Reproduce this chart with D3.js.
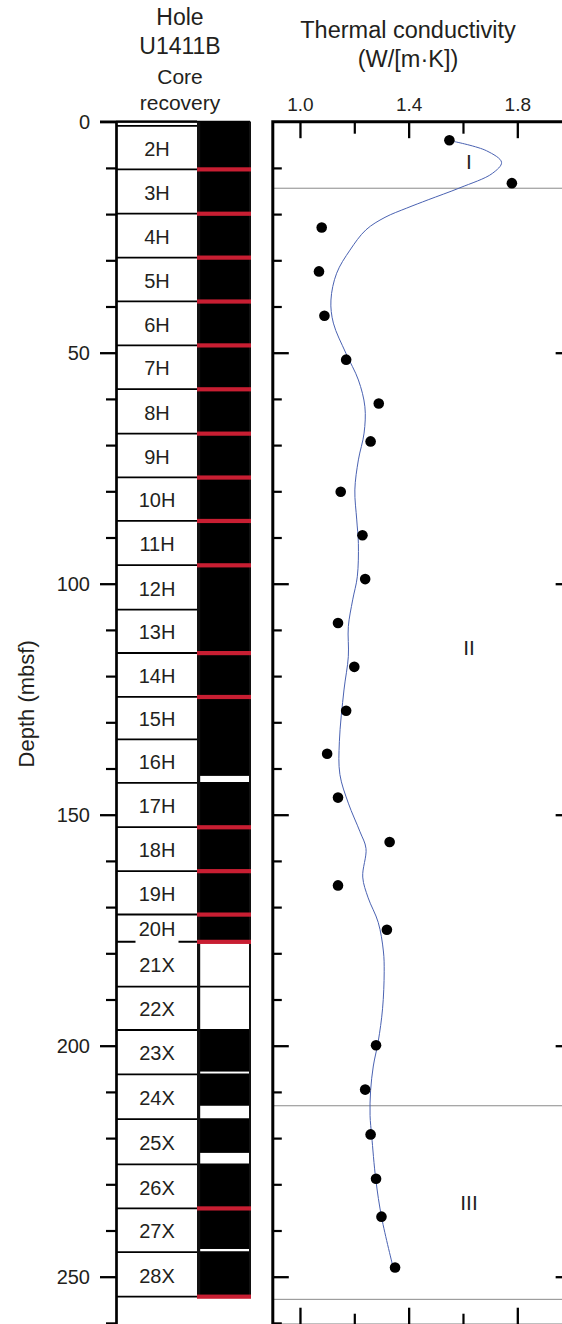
<!DOCTYPE html>
<html>
<head>
<meta charset="utf-8">
<script src="https://cdn.jsdelivr.net/npm/d3@7"></script>
<style>
  html, body { margin: 0; padding: 0; background: #fff; }
  svg { display: block; }
  text { font-family: "Liberation Sans", Arial, Helvetica, sans-serif; fill: #231f20; }
</style>
</head>
<body>
<svg id="chart" width="562" height="1324"></svg>
<script>
// Hole U1411B cores (depth in mbsf)
const coreNames = ["1H","2H","3H","4H","5H","6H","7H","8H","9H","10H",
  "11H","12H","13H","14H","15H","16H","17H","18H","19H","20H",
  "21X","22X","23X","24X","25X","26X","27X","28X"];
const coreTops = [0, 0.9, 10.3, 19.9, 29.4, 38.9, 48.4, 57.9, 67.5, 77.0,
  86.4, 96.0, 105.6, 115.0, 124.5, 133.7, 143.1, 152.7, 162.2, 171.6,
  177.5, 187.2, 196.6, 206.2, 215.9, 225.7, 235.2, 244.7];
const coreBottoms = [0.9, 10.3, 19.9, 29.4, 38.9, 48.4, 57.9, 67.5, 77.0, 86.4,
  96.0, 105.6, 115.0, 124.5, 133.7, 143.1, 152.7, 162.2, 171.6, 177.5,
  187.2, 196.6, 206.2, 215.9, 225.7, 235.2, 244.7, 254.3];
// recovered length of each core (m), measured from core top
const coreRecovered = [0.9, 9.4, 9.6, 9.5, 9.5, 9.5, 9.5, 9.6, 9.5, 9.4,
  9.6, 9.6, 9.4, 9.5, 9.2, 7.9, 9.6, 9.5, 9.4, 5.9,
  0, 0, 9.0, 6.8, 7.3, 9.5, 8.8, 9.6];
// red markers in the recovery column
const redMarkDepths = [10.3, 19.9, 29.4, 38.9, 48.4, 57.9, 67.5, 77.0, 86.4, 96.0,
  115.0, 124.5, 152.7, 162.2, 171.6, 177.5, 235.2, 254.3];

// thermal conductivity measurements
const tcDepth = [4.0, 13.3, 22.9, 32.4, 42.0, 51.5, 61.0, 69.2, 80.1, 89.5,
  99.0, 108.5, 118.0, 127.5, 136.8, 146.3, 155.9, 165.3, 174.9, 199.9,
  209.5, 219.2, 228.8, 237.0, 248.0];
const tcValue = [1.55, 1.78, 1.08, 1.07, 1.09, 1.17, 1.29, 1.26, 1.15, 1.23,
  1.24, 1.14, 1.20, 1.17, 1.10, 1.14, 1.33, 1.14, 1.32, 1.28,
  1.24, 1.26, 1.28, 1.30, 1.35];

// smoothed trend through the measurements
const trendDepth = [4.3, 6.3, 8.8, 11.2, 14.3, 16.9, 18.7, 20.7, 23.4, 27.8,
  32.8, 38.6, 43.6, 50.1, 55.9, 61.7, 67.4, 73.2, 79.7, 86.2,
  91.3, 98.5, 103.5, 109.3, 115.8, 123.0, 134.2, 141.3, 147.5, 153.7,
  157.3, 163.5, 168.0, 173.3, 179.5, 184.0, 192.0, 199.1, 204.4, 209.7,
  215.1, 219.5, 228.9, 237.3, 248.0];
const trendValue = [1.568, 1.687, 1.742, 1.708, 1.589, 1.472, 1.393, 1.313, 1.243, 1.184,
  1.135, 1.114, 1.123, 1.169, 1.215, 1.239, 1.236, 1.215, 1.202, 1.209,
  1.215, 1.211, 1.194, 1.178, 1.178, 1.162, 1.145, 1.147, 1.178, 1.221,
  1.243, 1.231, 1.251, 1.288, 1.307, 1.310, 1.304, 1.288, 1.270, 1.260,
  1.258, 1.264, 1.279, 1.301, 1.343];

// lithostratigraphic units
const unitNames = ["I", "II", "III"];
const unitLabelDepths = [8.6, 113.9, 234.0];
const unitBoundaryDepths = [14.4, 213.0, 254.9];

// axis ticks
const depthMajorTicks = [0, 50, 100, 150, 200, 250];
const depthMinorTicks = d3.range(10, 261, 10).filter(d => d % 50 !== 0);
const tcMajorTicks = [1.0, 1.4, 1.8];
const tcMinorTicks = [1.2, 1.6];

const svg = d3.select("#chart");
const ink = "#231f20";

const y = d3.scaleLinear().domain([0, 260.5]).range([121.7, 121.7 + 260.5 * 4.62]);
const x = d3.scaleLinear().domain([0.9, 2.0]).range([272.8, 571.65]);

// ---------- left panel: core recovery ----------
const axisX = 116, boxRight = 197, colLeft = 197, colRight = 251, labelX = 157;
const cores = coreNames.map((n, i) => ({ name: n, top: coreTops[i], bottom: coreBottoms[i], rec: coreRecovered[i] }));

const left = svg.append("g");
left.selectAll("rect.box").data(cores).join("rect")
  .attr("x", axisX).attr("width", boxRight - axisX)
  .attr("y", d => y(d.top)).attr("height", d => y(d.bottom) - y(d.top))
  .attr("fill", "#fff");

left.selectAll("rect.rec").data(cores.filter(d => d.rec > 0)).join("rect")
  .attr("x", colLeft).attr("width", colRight - colLeft)
  .attr("y", d => y(d.top)).attr("height", d => y(d.top + d.rec) - y(d.top))
  .attr("fill", "#000");

// core boundaries
const bounds = [coreTops[0]].concat(coreBottoms);
left.selectAll("line.bound").data(bounds).join("line")
  .attr("x1", axisX).attr("x2", colRight - 1)
  .attr("y1", d => y(d)).attr("y2", d => y(d))
  .attr("stroke", "#000").attr("stroke-width", 1.8);

// recovery column borders
left.append("line").attr("x1", 198.6).attr("x2", 198.6)
  .attr("y1", y(0)).attr("y2", y(coreBottoms[coreBottoms.length - 1]))
  .attr("stroke", "#111").attr("stroke-width", 3.2);
left.append("line").attr("x1", 250).attr("x2", 250)
  .attr("y1", y(0)).attr("y2", y(coreBottoms[coreBottoms.length - 1]))
  .attr("stroke", "#111").attr("stroke-width", 2);

left.selectAll("rect.red").data(redMarkDepths).join("rect")
  .attr("x", colLeft).attr("width", colRight - colLeft)
  .attr("y", d => y(d) - 2).attr("height", 4.2)
  .attr("fill", "#c81e32");

// core labels with a white knock-out behind them
const labelled = cores.filter(d => y(d.bottom) - y(d.top) > 15);
const lab = left.selectAll("g.lab").data(labelled).join("g")
  .attr("transform", d => `translate(${labelX},${(y(d.top) + y(d.bottom)) / 2 + 1})`);
lab.append("rect").attr("x", -21.5).attr("width", 43).attr("y", -10).attr("height", 25.5).attr("fill", "#fff");
lab.append("text").attr("text-anchor", "middle").attr("dy", "0.36em")
  .style("font-size", "20px").text(d => d.name);

// depth axis
const depthAxis = d3.axisLeft(y).tickValues(depthMajorTicks).tickSize(16).tickSizeOuter(0)
  .tickPadding(10).tickFormat(d3.format("d"));
const gDepth = svg.append("g").attr("transform", `translate(${axisX},0)`).call(depthAxis);
gDepth.select(".domain").attr("stroke", "#000").attr("stroke-width", 2.7);
gDepth.selectAll(".tick line").attr("stroke", "#000").attr("stroke-width", 2.3);
gDepth.selectAll(".tick text").attr("fill", ink).style("font-size", "20px")
  .style("font-family", "'Liberation Sans', Arial, sans-serif");
const gDepthMinor = svg.append("g").attr("transform", `translate(${axisX},0)`)
  .call(d3.axisLeft(y).tickValues(depthMinorTicks).tickSize(10).tickFormat(""));
gDepthMinor.select(".domain").remove();
gDepthMinor.selectAll(".tick line").attr("stroke", "#000").attr("stroke-width", 2.2);
// top edge of the core column
svg.append("line").attr("x1", 100).attr("x2", boxRight).attr("y1", y(0)).attr("y2", y(0))
  .attr("stroke", "#000").attr("stroke-width", 2.3);

svg.append("text").attr("transform", `translate(34,${y(126)}) rotate(-90)`)
  .attr("text-anchor", "middle").style("font-size", "22px").text("Depth (mbsf)");

// left titles
[["Hole", 25, 23], ["U1411B", 54.3, 23], ["Core", 84, 21], ["recovery", 110, 21]].forEach(([t, yy, fs]) => {
  svg.append("text").attr("x", 180).attr("y", yy).attr("text-anchor", "middle")
    .style("font-size", fs + "px").text(t);
});

// ---------- right panel: thermal conductivity ----------
const right = svg.append("g");
const y0 = y(0), yB = y(260.5), xL = x(0.9), xR = x(2.0);

// unit boundaries
right.selectAll("line.unit").data(unitBoundaryDepths).join("line")
  .attr("x1", xL).attr("x2", xR).attr("y1", d => y(d)).attr("y2", d => y(d))
  .attr("stroke", "#8a8a8a").attr("stroke-width", 1);

right.selectAll("text.unit").data(unitNames).join("text")
  .attr("x", 469).attr("y", (d, i) => y(unitLabelDepths[i])).attr("dy", "0.36em")
  .attr("text-anchor", "middle").style("font-size", "21px").text(d => d);

// inward ticks on all sides
function ticks(axisGen, tx, ty, vals, size, width) {
  const g = right.append("g").attr("transform", `translate(${tx},${ty})`)
    .call(axisGen.tickValues(vals).tickSize(size).tickFormat(""));
  g.select(".domain").remove();
  g.selectAll(".tick line").attr("stroke", "#000").attr("stroke-width", width);
  return g;
}
ticks(d3.axisRight(y), xL, 0, depthMajorTicks.slice(1), 16, 2.3);
ticks(d3.axisRight(y), xL, 0, depthMinorTicks, 9, 2.2);
ticks(d3.axisLeft(y), xR, 0, depthMajorTicks.slice(1), 16, 2.3);
ticks(d3.axisBottom(x), 0, y0, tcMajorTicks, 16.5, 2.3);
ticks(d3.axisBottom(x), 0, y0, tcMinorTicks, 12, 2.2);
ticks(d3.axisTop(x), 0, yB, tcMajorTicks, 17.5, 2.3);
ticks(d3.axisTop(x), 0, yB, tcMinorTicks, 11.5, 2.2);

// tick labels above the top edge
const gTop = right.append("g").attr("transform", `translate(0,${y0})`)
  .call(d3.axisTop(x).tickValues(tcMajorTicks).tickSize(0).tickPadding(11).tickFormat(d3.format(".1f")));
gTop.select(".domain").remove();
gTop.selectAll(".tick text").attr("fill", ink).style("font-size", "19px")
  .style("font-family", "'Liberation Sans', Arial, sans-serif");

// frame
right.append("path")
  .attr("d", `M${xL},${yB}V${y0}H${xR}V${yB}Z`)
  .attr("fill", "none").attr("stroke", "#000").attr("stroke-width", 3);

// trend curve
const line = d3.line().x(d => x(d[1])).y(d => y(d[0])).curve(d3.curveCatmullRom.alpha(0.5));
right.append("path").datum(trendDepth.map((d, i) => [d, trendValue[i]]))
  .attr("d", line).attr("fill", "none").attr("stroke", "#4a62b2").attr("stroke-width", 1);

// measurements
right.selectAll("circle").data(tcDepth.map((d, i) => [d, tcValue[i]])).join("circle")
  .attr("cx", d => x(d[1])).attr("cy", d => y(d[0])).attr("r", 5.3).attr("fill", "#000");

// titles
[["Thermal conductivity", 37.5], ["(W/[m·K])", 66.7]].forEach(([t, yy]) => {
  svg.append("text").attr("x", 408).attr("y", yy).attr("text-anchor", "middle")
    .style("font-size", "23.5px").text(t);
});
</script>
</body>
</html>
